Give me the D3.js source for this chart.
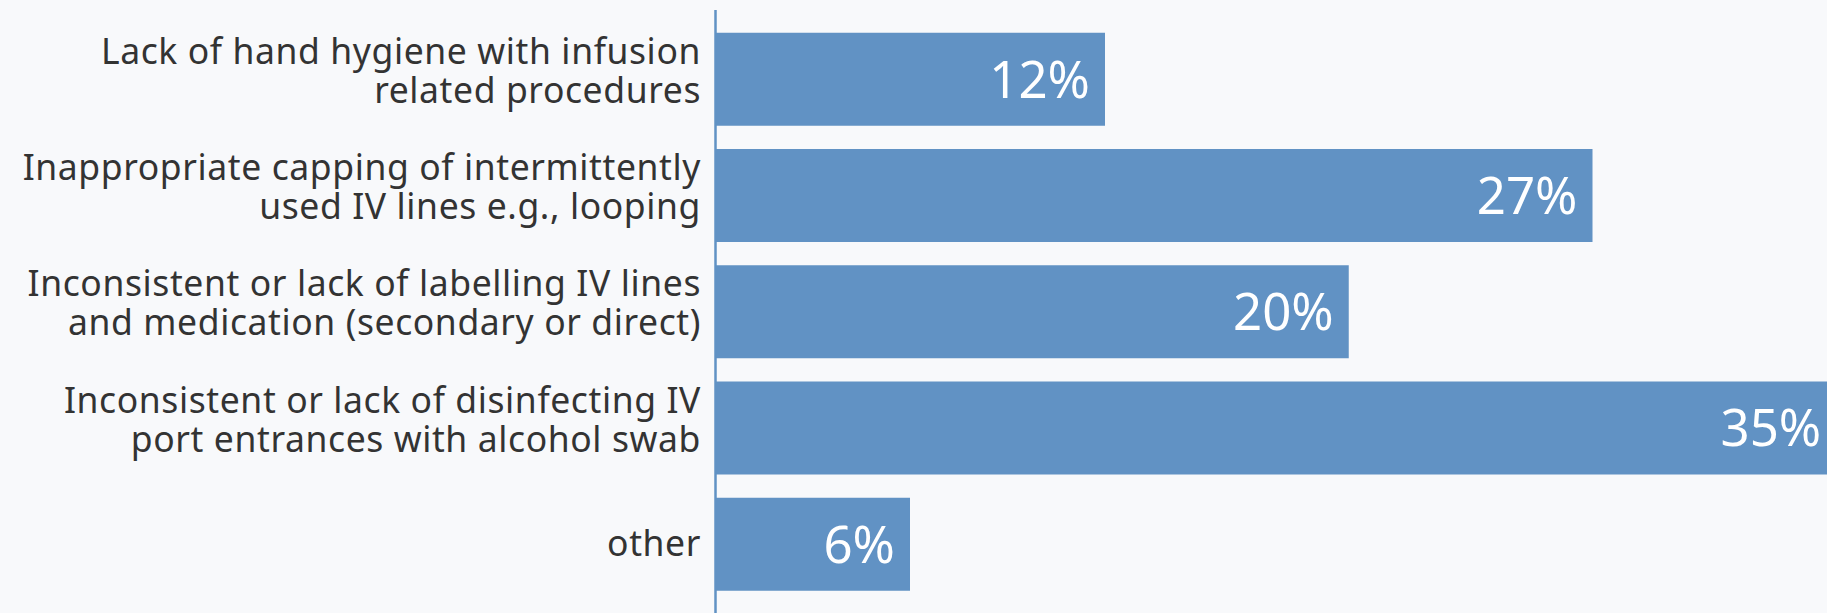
<!DOCTYPE html>
<html>
<head>
<meta charset="utf-8">
<script src="https://cdn.jsdelivr.net/npm/d3@7"></script>
<style>
  html, body { margin: 0; padding: 0; background: #f8f9fb; }
  #chart { width: 1827px; height: 613px; overflow: hidden; }
  .cat { font-family: "Noto Sans", Lato, sans-serif; font-size: 35.5px; letter-spacing: 0.6px; fill: #333; }
  .val { font-family: "Noto Sans", Lato, sans-serif; font-size: 51px; font-weight: 400; fill: #fff; }
</style>
</head>
<body>
<div id="chart"></div>
<script>
const categories = [
  ["Lack of hand hygiene with infusion", "related procedures"],
  ["Inappropriate capping of intermittently", "used IV lines e.g., looping"],
  ["Inconsistent or lack of labelling IV lines", "and medication (secondary or direct)"],
  ["Inconsistent or lack of disinfecting IV", "port entrances with alcohol swab"],
  ["other"]
];
const values = [12, 27, 19.5, 34.5, 6];
const valueLabels = ["12%", "27%", "20%", "35%", "6%"];

const width = 1827;
const height = 613;

const svg = d3.select("#chart").append("svg")
    .attr("width", width)
    .attr("height", height);

const x = d3.scaleLinear()
    .domain([0, 35])
    .range([715, 1852.5]);

const y = d3.scaleBand()
    .domain(d3.range(values.length))
    .range([9.5, 614])
    .padding(0.2);

// bars
svg.selectAll("rect.bar")
    .data(values)
    .enter().append("rect")
    .attr("class", "bar")
    .attr("x", x(0))
    .attr("y", (d, i) => y(i))
    .attr("width", d => x(d) - x(0))
    .attr("height", y.bandwidth())
    .attr("fill", "#6192c4");

// axis line
const axis = svg.append("g")
    .attr("transform", `translate(${x(0)},0)`)
    .call(d3.axisLeft(y).tickSize(0).tickFormat(""));
axis.select(".domain").attr("stroke", "#6192c4").attr("stroke-width", 2.5);

// category labels
const lineH = 39;
svg.selectAll("text.cat")
    .data(categories)
    .enter().append("text")
    .attr("class", "cat")
    .attr("text-anchor", "end")
    .each(function(lines, i) {
        const cy = y(i) + y.bandwidth() / 2;
        const off = lines.length > 1 ? 4 : 12;
        const t = d3.select(this);
        lines.forEach((ln, k) => {
            t.append("tspan")
                .attr("x", x(0) - 14)
                .attr("y", cy + (k - (lines.length - 1) / 2) * lineH + off)
                .text(ln);
        });
    });

// value labels
svg.selectAll("text.val")
    .data(values)
    .enter().append("text")
    .attr("class", "val")
    .attr("text-anchor", "end")
    .attr("x", d => x(d) - 15)
    .attr("y", (d, i) => y(i) + y.bandwidth() / 2)
    .attr("dy", "0.36em")
    .text((d, i) => valueLabels[i]);
</script>
</body>
</html>
